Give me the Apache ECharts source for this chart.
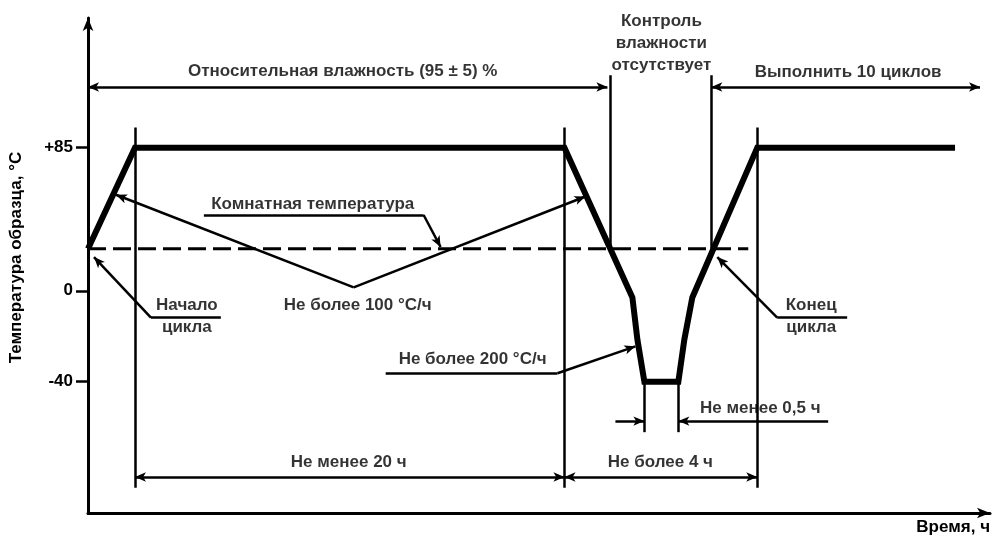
<!DOCTYPE html>
<html><head><meta charset="utf-8">
<script src="https://cdn.jsdelivr.net/npm/echarts@6/dist/echarts.min.js"></script>
<style>html,body{margin:0;padding:0;background:#fff}#c{width:994px;height:539px}</style>
</head><body><div id="c"></div>
<script>
// Schematic diagram units (x: schematic time, y: schematic temperature level)
const xMin = 0, xMax = 903, yMin = -132, yMax = 162;

// Temperature profile of one cycle (thick line)
const profileX = [0, 47, 477, 545, 550, 557, 591, 597, 605, 670, 868];
const profileY = [25, 85, 85, -4, -29, -54, -54, -29, -4, 85, 85];

// Room temperature (dashed)
const roomTemp = 25;
const roomLineX = [0, 661];

// Y tick positions and labels
const yTickValues = [85, 0, -54];
const yTickLabels = ['+85', '0', '-40'];

// Vertical boundary lines: x, from, to
const boundX     = [47, 477, 670, 523, 624, 557, 591];
const boundYFrom = [97, 97, 97, 128, 128, -54, -54];
const boundYTo   = [-117, -117, -117, 25, 25, -84, -84];

// Dimension lines with arrows at both ends
const dimX1 = [0, 624, 47, 477];
const dimX2 = [520, 893, 477, 670];
const dimY  = [121, 121, -110.6, -110.6];

// Leader lines with an arrow at the end
const leadX1 = [336, 266, 266, 63, 690, 470, 528, 741];
const leadY1 = [45, 2, 2, -16, -16, -49, -77.4, -77.4];
const leadX2 = [353, 28, 498, 6, 630, 548, 557, 591];
const leadY2 = [26, 57, 56, 20, 20, -33, -77.4, -77.4];

// Plain underlines
const ulX1 = [116, 63, 690, 298];
const ulX2 = [336, 133, 760, 470];
const ulY  = [45, -16, -16, -49];

// Annotation texts
const labelText = ['Относительная влажность (95 ± 5) %', 'Контроль\nвлажности\nотсутствует', 'Выполнить 10 циклов',
  'Комнатная температура', 'Не более 100 °С/ч', 'Начало\nцикла', 'Конец\nцикла', 'Не более 200 °С/ч',
  'Не менее 0,5 ч', 'Не менее 20 ч', 'Не более 4 ч'];
const labelX = [255, 574, 761, 225, 270, 99, 724, 385, 673, 261, 573];
const labelY = [130.5, 146.9, 130, 51.5, -8.5, -15, -15, -41, -70, -102, -102];

const FONT = 'Liberation Sans, Arial, sans-serif';
const FS = 17;
const chart = echarts.init(document.getElementById('c'), null, {renderer: 'canvas'});

const seg = (a, b, s1, s2) => [{coord: a, symbol: s1}, {coord: b, symbol: s2}];
const thinMarks = [];
boundX.forEach((x, i) => thinMarks.push(seg([x, boundYFrom[i]], [x, boundYTo[i]], 'none', 'none')));
dimX1.forEach((x, i) => thinMarks.push(seg([x, dimY[i]], [dimX2[i], dimY[i]], 'arrow', 'arrow')));
leadX1.forEach((x, i) => thinMarks.push(seg([x, leadY1[i]], [leadX2[i], leadY2[i]], 'none', 'arrow')));
ulX1.forEach((x, i) => thinMarks.push(seg([x, ulY[i]], [ulX2[i], ulY[i]], 'none', 'none')));

chart.setOption({
  animation: false,
  backgroundColor: '#fff',
  grid: {left: 87, right: 4, top: 18, bottom: 26},
  xAxis: {
    type: 'value', min: xMin, max: xMax,
    axisLine: {show: true, onZero: false, symbol: ['none', 'arrow'], symbolSize: [8, 13], lineStyle: {color: '#000', width: 3}},
    axisTick: {show: false}, axisLabel: {show: false}, splitLine: {show: false},
    name: 'Время, ч', nameLocation: 'end', nameGap: 0,
    nameTextStyle: {color: '#000', fontFamily: FONT, fontWeight: 'bold', fontSize: FS, align: 'right', verticalAlign: 'top', padding: [6, 0, 0, 0]}
  },
  yAxis: {
    type: 'value', min: yMin, max: yMax,
    axisLine: {show: true, onZero: false, symbol: ['none', 'arrow'], symbolSize: [8, 13], lineStyle: {color: '#000', width: 3}},
    axisTick: {show: true, customValues: yTickValues, length: 12, inside: false, lineStyle: {color: '#000', width: 2.5}},
    axisLabel: {show: true, customValues: yTickValues, margin: 15, color: '#000', fontFamily: FONT, fontWeight: 'bold', fontSize: FS,
      formatter: v => { const i = yTickValues.indexOf(v); return i >= 0 ? yTickLabels[i] : ''; }},
    splitLine: {show: false},
    name: 'Температура образца, °С', nameLocation: 'middle', nameGap: 63,
    nameTextStyle: {color: '#000', fontFamily: FONT, fontWeight: 'bold', fontSize: FS, padding: [0, 0, 0, 16]}
  },
  series: [
    {
      type: 'line', data: profileX.map((x, i) => [x, profileY[i]]), symbol: 'none', z: 5,
      lineStyle: {color: '#000', width: 6, join: 'miter'}
    },
    {
      type: 'line', data: roomLineX.map(x => [x, roomTemp]), symbol: 'none', z: 3,
      lineStyle: {color: '#000', width: 3, type: [18, 7]}
    },
    {
      type: 'line', data: [[0, roomTemp]], symbol: 'none', z: 4,
      markLine: {silent: true, animation: false, symbolSize: [7, 11], label: {show: false},
        lineStyle: {color: '#000', width: 2.5, type: 'solid'}, data: thinMarks}
    },
    {
      type: 'scatter', symbolSize: 0, z: 6,
      data: labelText.map((t, i) => ({name: t, value: [labelX[i], labelY[i]]})),
      label: {show: true, position: 'inside', formatter: p => p.name, color: '#000', fontFamily: FONT,
        fontWeight: 'bold', fontSize: FS, lineHeight: 22, align: 'center', verticalAlign: 'middle'}
    }
  ]
});
</script></body></html>
